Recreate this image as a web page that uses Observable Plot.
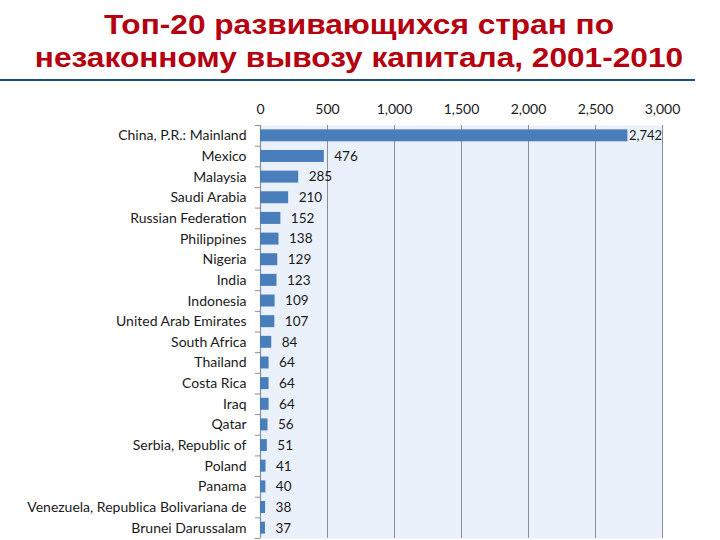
<!DOCTYPE html>
<html><head><meta charset="utf-8">
<script src="https://cdn.jsdelivr.net/npm/d3@7"></script>
<script src="https://cdn.jsdelivr.net/npm/@observablehq/plot@0.6"></script>
<style>
html,body{margin:0;padding:0;background:#fff;width:720px;height:540px;overflow:hidden;}
#title{position:absolute;left:0;top:8px;width:718px;text-align:center;font-family:"Liberation Sans",Arial,sans-serif;font-weight:bold;font-size:28px;line-height:33px;color:#b5000f;transform:scaleX(1.13);transform-origin:359px 0;}
#rule{position:absolute;left:0;top:79px;width:695px;height:2px;background:#1f4e79;}
#chart{position:absolute;left:0;top:80px;}
</style></head>
<body>
<div id="title">Топ-20 развивающихся стран по<br>незаконному вывозу капитала, 2001-2010</div>
<div id="rule"></div>
<div id="chart"></div>
<script>
const countries = ["China, P.R.: Mainland","Mexico","Malaysia","Saudi Arabia","Russian Federation","Philippines","Nigeria","India","Indonesia","United Arab Emirates","South Africa","Thailand","Costa Rica","Iraq","Qatar","Serbia, Republic of","Poland","Panama","Venezuela, Republica Bolivariana de","Brunei Darussalam"];
const values = [2742,476,285,210,152,138,129,123,109,107,84,64,64,64,56,51,41,40,38,37];
const xTicks = [0,500,1000,1500,2000,2500,3000];

const data = countries.map((c,i)=>({country:c, value:values[i]}));
const fmt = d3.format(",");
const H = 460, mt = 45, mb = 2;
const step = (H-mt-mb)/countries.length;

const chart = Plot.plot({
  width: 720, height: H,
  marginTop: mt, marginBottom: mb, marginLeft: 260, marginRight: 58,
  style: {fontFamily: "Lato, sans-serif", fontSize: "14px", color: "#1a1a1a", background: "transparent"},
  x: {domain: [0,3000], axis: "top", ticks: xTicks, tickFormat: fmt, tickSize: 0, tickPadding: 12, label: null},
  y: {domain: countries, paddingInner: 0.42, paddingOuter: 0.21, round: false, axis: "left", tickSize: 0, tickPadding: 14, label: null},
  marks: [
    Plot.frame({fill: "#eaf1fb", stroke: null}),
    Plot.gridX({ticks: xTicks.slice(1), stroke: "#8a9099", strokeOpacity: 1, strokeWidth: 1}),
    Plot.ruleX([0], {stroke: "#8a9099", strokeWidth: 1.2}),
    Plot.ruleY(countries, {y: d=>d, x1: -38, x2: 0, dy: -step/2, stroke: "#8a9099"}),
    Plot.ruleY(countries.slice(-1), {y: d=>d, x1: -38, x2: 0, dy: step/2, stroke: "#8a9099"}),
    Plot.barX(data, {y: "country", x: "value", fill: "#4a7ebb"}),
    Plot.text(data.slice(0,1), {y: "country", x: "value", text: d=>fmt(d.value), textAnchor: "start", dx: 1, fontSize: 13, fill: "#1a1a1a"}),
    Plot.text(data.slice(1), {y: "country", x: "value", text: d=>fmt(d.value), textAnchor: "start", dx: 10, fontSize: 13.5, fill: "#1a1a1a"})
  ]
});
document.getElementById("chart").appendChild(chart);
</script>
</body></html>
